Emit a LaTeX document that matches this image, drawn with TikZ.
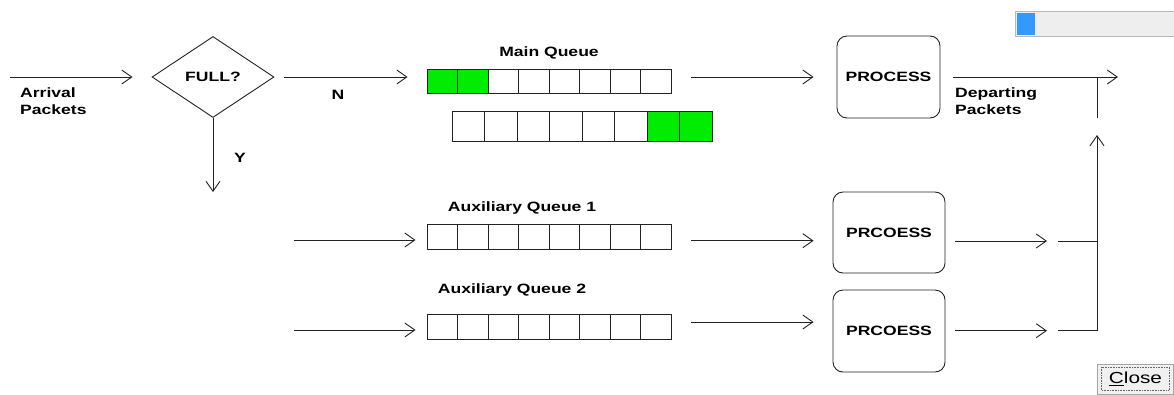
\documentclass[tikz,border=0pt]{standalone}
\usepackage{fontspec}
\setmainfont{Liberation Sans}[FakeStretch=1.3]
\usetikzlibrary{shapes.geometric,arrows.meta}
\definecolor{lncol}{RGB}{35,35,35}
\definecolor{qgreen}{RGB}{0,236,0}
\definecolor{barblue}{RGB}{51,153,255}
\definecolor{barbg}{RGB}{238,238,238}
\definecolor{btnbg}{RGB}{240,240,240}
\begin{document}
\begin{tikzpicture}[x=1pt,y=-1pt,
  lbl/.style={font=\fontsize{13.5}{16.5}\selectfont\bfseries, inner sep=0pt, text=black},
  ln/.style={draw=lncol, line width=0.9pt},
  arr/.style={ln, -{Straight Barb[length=10pt,width=14pt]}},
  cell/.style={draw=lncol, line width=0.9pt, inner sep=0pt},
  procbox/.style={draw=lncol, line width=0.9pt, rounded corners=10pt, inner sep=0pt,
    font=\fontsize{13.5}{16}\selectfont\bfseries},
]
\useasboundingbox[fill=white] (0,0) rectangle (1174,394);

% decision
\node[diamond, draw=lncol, line width=0.9pt, aspect=1.5, inner sep=0pt,
  minimum width=122pt, minimum height=81pt,
  font=\fontsize{13.5}{16}\selectfont\bfseries] (full) at (213,77) {FULL?};

% labels
\node[lbl, align=left, anchor=north west] (arrl) at (20,88) {Arrival\\Packets};
\node[lbl] (nl) at (338,95) {N};
\node[lbl] (yl) at (240,158) {Y};
\node[lbl] (mql) at (549,53) {Main Queue};
\node[lbl] (aq1l) at (522,208) {Auxiliary Queue 1};
\node[lbl] (aq2l) at (512,290) {Auxiliary Queue 2};
\node[lbl, align=left, anchor=north west] (depl) at (955,88) {Departing\\Packets};

% main queue row 1
\foreach \i/\c in {0/qgreen,1/qgreen,2/white,3/white,4/white,5/white,6/white,7/white}
  \node[cell, fill=\c, minimum width=30.5pt, minimum height=24.5pt] (ma\i) at ({427+30.5*\i+15.25},81.3) {};
% main queue row 2
\foreach \i/\c in {0/white,1/white,2/white,3/white,4/white,5/white,6/qgreen,7/qgreen}
  \node[cell, fill=\c, minimum width=32.5pt, minimum height=30pt] (mb\i) at ({452+32.5*\i+16.25},126.7) {};
% auxiliary queues
\foreach \i in {0,...,7}{
  \node[cell, minimum width=30.5pt, minimum height=25pt] (aa\i) at ({427+30.5*\i+15.25},236.7) {};
  \node[cell, minimum width=30.5pt, minimum height=25pt] (ab\i) at ({427+30.5*\i+15.25},327.3) {};
}

% process boxes
\node[procbox, minimum width=103pt, minimum height=82pt] (p0) at (888.5,77) {PROCESS};
\node[procbox, minimum width=112pt, minimum height=81pt] (p1) at (889,232.5) {PRCOESS};
\node[procbox, minimum width=112pt, minimum height=82pt] (p2) at (889,331) {PRCOESS};

% coordinates for free ends
\coordinate (ain) at (10,77);
\coordinate (yend) at (213,192);
\coordinate (a1in) at (294,240);
\coordinate (a2in) at (294,330);
\coordinate (dep) at (1118,77);
\coordinate (jtop) at (1097,77);
\coordinate (jstub) at (1097,118);
\coordinate (jarr) at (1097,135);
\coordinate (j1a) at (1058,241);
\coordinate (j1b) at (1097,241);
\coordinate (j2a) at (1058,330.7);
\coordinate (j2b) at (1097,330.7);

% connectors
\draw[arr] (ain) -- ([xshift=-19pt]full.west);
\draw[arr] ([xshift=10pt]full.east) -- ([xshift=-19pt]full.east -| ma0.west);
\draw[arr] (full.south) -- (yend);
\draw[arr] ([xshift=20pt]ma7.east |- p0.west) -- ([xshift=-23pt]p0.west);
\draw[arr] (a1in) -- ([xshift=-11pt]a1in -| aa0.west);
\draw[arr] (a2in) -- ([xshift=-11pt]a2in -| ab0.west);
\draw[arr] ([xshift=20pt]aa7.east |- 0,240.7) -- ([xshift=-19pt]p1.west |- 0,240.7);
\draw[arr] ([xshift=20pt]ab7.east |- 0,322) -- ([xshift=-19pt]p2.west |- 0,322);
\draw[arr] ([xshift=13pt]p0.east) -- (dep);
\draw[ln] (jtop) -- (jstub);
\draw[arr] ([xshift=10pt]p1.east |- j1a) -- ([xshift=-11pt]j1a);
\draw[arr] ([xshift=10pt]p2.east |- j2a) -- ([xshift=-11pt]j2a);
\draw[ln] (j1a) -- (j1b);
\draw[ln] (j2a) -- (j2b);
\draw[arr] (j2b) -- (jarr);

% progress bar
\node[draw=gray!55, fill=barbg, minimum width=162pt, minimum height=25pt, inner sep=0pt,
  anchor=north west, line width=0.9pt] (bar) at (1015,11) {};
\node[fill=barblue, minimum width=18pt, minimum height=22pt, inner sep=0pt,
  anchor=north west] (barfill) at (1017,13) {};

% close button
\node[draw=gray!70, fill=btnbg, minimum width=76pt, minimum height=30pt, inner sep=0pt,
  anchor=north west, line width=0.9pt,
  font=\fontsize{16}{16}\selectfont] (close) at (1097,363.5) {\underline{C}lose};
\draw[densely dotted, gray!80!black, line width=0.6pt] (1101,367) rectangle (1169,390);
\end{tikzpicture}
\end{document}
